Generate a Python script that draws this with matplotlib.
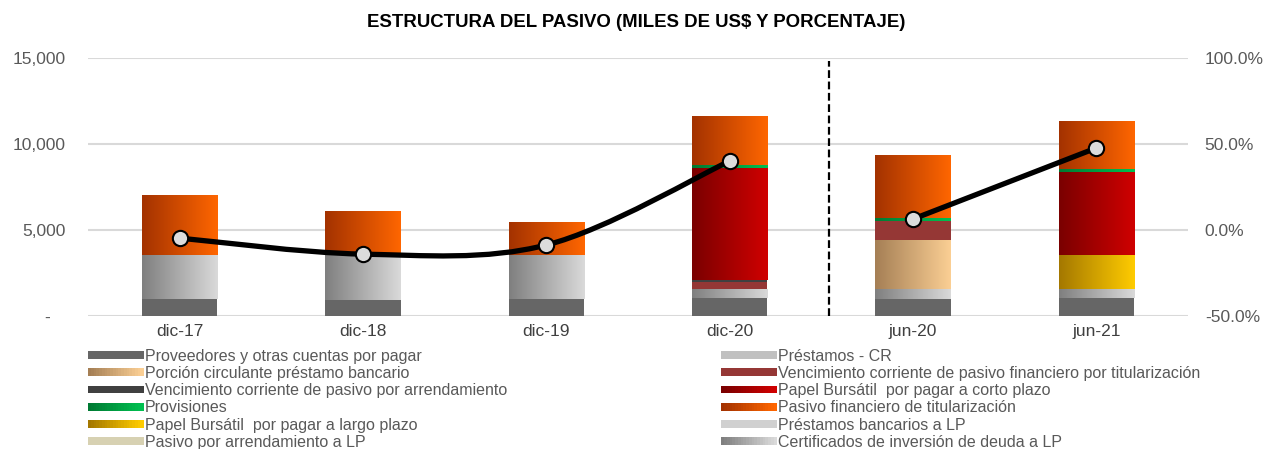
import numpy as np
import matplotlib
matplotlib.use("Agg")
import matplotlib.pyplot as plt
from matplotlib.colors import LinearSegmentedColormap
from matplotlib.patches import Rectangle
from matplotlib.path import Path
from matplotlib.patches import PathPatch
from matplotlib.legend_handler import HandlerBase
from matplotlib.ticker import FuncFormatter

plt.rcParams['font.family'] = ['Liberation Sans', 'DejaVu Sans']

# datos (miles de US$)
periodos = ["dic-17", "dic-18", "dic-19", "dic-20", "jun-20", "jun-21"]

proveedores = [990, 930, 990, 1050, 990, 1050]
prestamos_cr = [0, 0, 0, 0, 0, 0]
certificados_lp = [2560, 2670, 2560, 520, 580, 520]
porcion_circulante = [0, 0, 0, 0, 2850, 0]
papel_lp = [0, 0, 0, 0, 0, 1980]
venc_titularizacion = [0, 0, 0, 410, 1100, 0]
venc_arrendamiento = [0, 0, 0, 115, 0, 0]
papel_cp = [0, 0, 0, 6510, 0, 4825]
provisiones = [0, 0, 0, 175, 175, 175]
pasivo_titularizacion = [3490, 2505, 1915, 2850, 3660, 2790]
prestamos_lp = [0, 0, 0, 0, 0, 0]
arrendamiento_lp = [0, 0, 0, 0, 0, 0]

variacion = [-4.7, -14.0, -8.7, 40.1, 6.4, 47.7]

# (valores, color izquierdo, color derecho)
series = {
    "Proveedores y otras cuentas por pagar": (proveedores, "#666666", "#666666"),
    "Préstamos - CR": (prestamos_cr, "#c0c0c0", "#c0c0c0"),
    "Certificados de inversión de deuda a LP": (certificados_lp, "#7f7f7f", "#dadada"),
    "Porción circulante préstamo bancario": (porcion_circulante, "#a57f55", "#fbcf94"),
    "Papel Bursátil  por pagar a largo plazo": (papel_lp, "#a47800", "#ffcc00"),
    "Vencimiento corriente de pasivo financiero por titularización": (venc_titularizacion, "#953735", "#953735"),
    "Vencimiento corriente de pasivo por arrendamiento": (venc_arrendamiento, "#404040", "#404040"),
    "Papel Bursátil  por pagar a corto plazo": (papel_cp, "#7a0000", "#d00000"),
    "Provisiones": (provisiones, "#007a33", "#00c050"),
    "Pasivo financiero de titularización": (pasivo_titularizacion, "#a33200", "#ff6600"),
    "Préstamos bancarios a LP": (prestamos_lp, "#d0d0d0", "#d0d0d0"),
    "Pasivo por arrendamiento a LP": (arrendamiento_lp, "#d7d1b2", "#d7d1b2"),
}

legend_order = [
    "Proveedores y otras cuentas por pagar",
    "Porción circulante préstamo bancario",
    "Vencimiento corriente de pasivo por arrendamiento",
    "Provisiones",
    "Papel Bursátil  por pagar a largo plazo",
    "Pasivo por arrendamiento a LP",
    "Préstamos - CR",
    "Vencimiento corriente de pasivo financiero por titularización",
    "Papel Bursátil  por pagar a corto plazo",
    "Pasivo financiero de titularización",
    "Préstamos bancarios a LP",
    "Certificados de inversión de deuda a LP",
]

grad = np.linspace(0, 1, 256).reshape(1, -1)


def make_cmap(c1, c2):
    return LinearSegmentedColormap.from_list("g", [c1, c2])


fig = plt.figure(figsize=(12.68, 4.49), dpi=100)
ax = fig.add_axes([0.0694, 0.296, 0.8676, 0.575])
ax2 = ax.twinx()

x = np.arange(len(periodos))
width = 0.41
bottom = np.zeros(len(periodos))

for label, (vals, c1, c2) in series.items():
    vals = np.array(vals, dtype=float)
    bars = ax.bar(x, vals, width, bottom=bottom, color=c1, linewidth=0, zorder=2)
    if c1 != c2:
        cmap = make_cmap(c1, c2)
        for b in bars:
            if b.get_height() <= 0:
                continue
            im = ax.imshow(grad, cmap=cmap, aspect='auto', zorder=2.1,
                           extent=[b.get_x(), b.get_x() + b.get_width(),
                                   b.get_y(), b.get_y() + b.get_height()])
            im.set_clip_path(b)
    bottom += vals

ax.set_xlim(-0.5, len(periodos) - 0.5)
ax.set_ylim(0, 15000)
ax.set_yticks([0, 5000, 10000, 15000])
ax.yaxis.set_major_formatter(FuncFormatter(lambda v, p: "-   " if v == 0 else f"{v:,.0f}"))
ax.set_xticks(x)
ax.set_xticklabels(periodos)
ax.grid(axis='y', color='#d9d9d9', linewidth=1.5, zorder=0)
ax.set_axisbelow(True)
for s in ax.spines.values():
    s.set_visible(False)
for s in ax2.spines.values():
    s.set_visible(False)
ax.tick_params(axis='y', length=0, pad=16, labelsize=12.5, labelcolor='#595959')
ax.tick_params(axis='x', length=0, pad=6, labelsize=12.5, labelcolor='#404040')

# separador entre cierre anual y semestral
ax.axvline(3.54, ymin=0.0, ymax=0.99, color='black', linestyle=(0, (3.5, 1.6)),
           linewidth=1.6, zorder=3)

ax2.set_ylim(-50, 100)
ax2.set_yticks([-50, 0, 50, 100])
ax2.yaxis.set_major_formatter(FuncFormatter(lambda v, p: f"{v:.1f}%"))
ax2.tick_params(axis='y', length=0, pad=12, labelsize=12.5, labelcolor='#595959')


def smooth_path(xs, ys, start_factor=0.5, end_factor=0.5):
    pts = np.column_stack([xs, ys]).astype(float)
    n = len(pts)
    tang = np.zeros_like(pts)
    for i in range(n):
        if i == 0:
            tang[i] = start_factor * (pts[1] - pts[0])
        elif i == n - 1:
            tang[i] = end_factor * (pts[-1] - pts[-2])
        else:
            tang[i] = 0.5 * (pts[i + 1] - pts[i - 1])
    verts = [pts[0]]
    codes = [Path.MOVETO]
    for i in range(n - 1):
        verts += [pts[i] + tang[i] / 3, pts[i + 1] - tang[i + 1] / 3, pts[i + 1]]
        codes += [Path.CURVE4] * 3
    return Path(verts, codes)


segmentos = [(slice(0, 4), 0.5, 0.5), (slice(4, 6), 0.15, 0.6)]
for seg, f0, f1 in segmentos:
    p = smooth_path(x[seg], variacion[seg], f0, f1)
    ax2.add_patch(PathPatch(p, facecolor='none', edgecolor='black', linewidth=3.8,
                            capstyle='round', zorder=4))
ax2.plot(x, variacion, linestyle='none', marker='o', markersize=11,
         markerfacecolor='#dcdcdc', markeredgecolor='black', markeredgewidth=1.5, zorder=5)


class GradHandler(HandlerBase):
    def create_artists(self, legend, orig_handle, xdescent, ydescent, width, height, fontsize, trans):
        c1, c2 = orig_handle.c1, orig_handle.c2
        n = 20
        arts = []
        for i in range(n):
            col = make_cmap(c1, c2)(i / (n - 1))
            r = Rectangle((-xdescent + width * i / n, -ydescent + height * 0.15),
                          width / n + 0.3, height * 0.7, facecolor=col,
                          edgecolor='none', transform=trans)
            arts.append(r)
        return arts


class GradKey:
    def __init__(self, c1, c2):
        self.c1, self.c2 = c1, c2


handles = [GradKey(series[k][1], series[k][2]) for k in legend_order]
leg = fig.legend(handles, legend_order, handler_map={GradKey: GradHandler()},
                 loc='upper left', bbox_to_anchor=(0.0694, 0.2235), ncol=2,
                 frameon=False, fontsize=11.5, handlelength=3.45, handleheight=0.7,
                 handletextpad=0.12, labelspacing=0.14, columnspacing=13.4,
                 borderaxespad=0, borderpad=0)
for t in leg.get_texts():
    t.set_color('#595959')

fig.text(0.502, 0.95, "ESTRUCTURA DEL PASIVO (MILES DE US$ Y PORCENTAJE)",
         ha='center', va='center', fontsize=13.4, fontweight='bold', color='black')

fig.savefig("out.png", dpi=100)
